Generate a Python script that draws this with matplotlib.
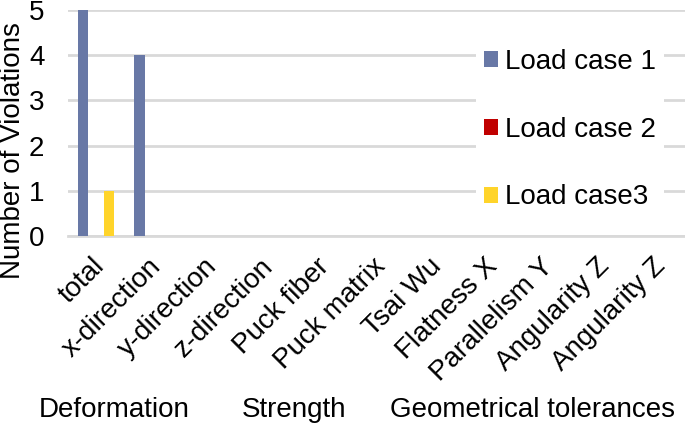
import matplotlib
matplotlib.use("Agg")
import matplotlib.pyplot as plt
import matplotlib.transforms as mtransforms
import numpy as np
from matplotlib.patches import Patch

plt.rcParams['font.family'] = ['Liberation Sans', 'DejaVu Sans']

categories = ["total", "x-direction", "y-direction", "z-direction", "Puck fiber",
              "Puck matrix", "Tsai Wu", "Flatness X", "Parallelism Y",
              "Angularity Z", "Angularity Z"]
load_case_1 = [5, 4, 0, 0, 0, 0, 0, 0, 0, 0, 0]
load_case_2 = [0, 0, 0, 0, 0, 0, 0, 0, 0, 0, 0]
load_case_3 = [1, 0, 0, 0, 0, 0, 0, 0, 0, 0, 0]
series_names = ["Load case 1", "Load case 2", "Load case3"]
groups = ["Deformation", "Strength", "Geometrical tolerances"]
yticks = [0, 1, 2, 3, 4, 5]

colors = ["#6878A6", "#C00000", "#FFD42A"]
FS = 20

fig = plt.figure(figsize=(6.85, 4.25), dpi=100)
ax = fig.add_axes([68/685, 1-236/425, 1-68/685, 226/425])

x = np.arange(len(categories))
w = 0.18
off = 0.225
for vals, dx, c in zip([load_case_1, load_case_2, load_case_3], [-off, 0, off], colors):
    ax.bar(x + dx, vals, width=w, color=c, zorder=3)

ax.set_xlim(-0.5, len(categories) - 0.5)
ax.set_ylim(0, 5)
ax.set_yticks(yticks)
ax.yaxis.grid(True, color="#D9D9D9", linewidth=2, zorder=0)
ax.set_axisbelow(True)
for s in ["top", "right", "left"]:
    ax.spines[s].set_visible(False)
ax.spines["bottom"].set_color("#D9D9D9")
ax.spines["bottom"].set_linewidth(2)
ax.tick_params(axis="y", length=0, pad=17, labelsize=FS)
ax.tick_params(axis="x", length=0, pad=19, labelsize=FS)
ax.set_xticks(x)
ax.set_xticklabels(categories, rotation=45, ha="right", va="center", rotation_mode="anchor")
shift = mtransforms.ScaledTranslation(5/100, 0, fig.dpi_scale_trans)
for lbl in ax.get_xticklabels():
    lbl.set_transform(lbl.get_transform() + shift)

handles = [Patch(facecolor=c, edgecolor="none") for c in colors]
leg = ax.legend(handles, series_names, loc="center left", bbox_to_anchor=(0.638, 0.47),
                fontsize=FS, frameon=True, framealpha=1, edgecolor="none",
                handlelength=0.5, handleheight=0.5, handletextpad=0.25,
                labelspacing=1.5, borderpad=0.3, fancybox=False)

fig.text(13/685, 1-151/425, "Number of Violations", rotation=90, ha="center", va="center", fontsize=FS)
for g, gx in zip(groups, [114, 294, 532]):
    fig.text(gx/685, 1-410/425, g, ha="center", va="center", fontsize=FS)

fig.savefig("out.png", dpi=100)
